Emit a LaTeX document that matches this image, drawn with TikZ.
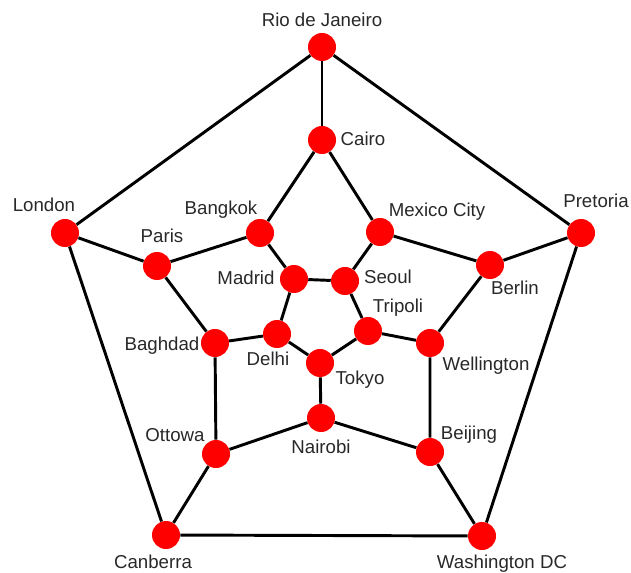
\documentclass[tikz,border=0pt]{standalone}
\usepackage{fontspec}
\setmainfont{Liberation Sans}
\definecolor{txtgray}{RGB}{40,40,40}
\definecolor{dotred}{RGB}{255,0,0}
\begin{document}
\begin{tikzpicture}[x=0.75pt,y=-0.75pt,
  city/.style={circle,fill=dotred,draw=none,minimum size=21pt,inner sep=0pt},
  cityname/.style={anchor=base,inner sep=0pt,text=txtgray,font=\fontsize{14pt}{16pt}\selectfont},
  road/.style={line width=2.2pt,black}]
\useasboundingbox (0,0) rectangle (631,573);
% cities
\node[city] (rio) at (322,47) {};
\node[city] (cairo) at (322,140) {};
\node[city] (london) at (65,233) {};
\node[city] (pretoria) at (581,233) {};
\node[city] (bangkok) at (260,233) {};
\node[city] (mexico) at (380,232) {};
\node[city] (paris) at (157,266) {};
\node[city] (berlin) at (490,265) {};
\node[city] (madrid) at (294,279) {};
\node[city] (seoul) at (345,281) {};
\node[city] (delhi) at (277,334) {};
\node[city] (tripoli) at (368,331) {};
\node[city] (baghdad) at (215,343) {};
\node[city] (wellington) at (430,343) {};
\node[city] (tokyo) at (320,363) {};
\node[city] (nairobi) at (321,418) {};
\node[city] (ottowa) at (216,454) {};
\node[city] (beijing) at (430,452) {};
\node[city] (canberra) at (166,535) {};
\node[city] (washington) at (482,536) {};
% roads
\draw[road] (rio) -- (pretoria) -- (washington) -- (canberra) -- (london) -- (rio);
\draw[road] (rio) -- (cairo);
\draw[road] (pretoria) -- (berlin);
\draw[road] (washington) -- (beijing);
\draw[road] (canberra) -- (ottowa);
\draw[road] (london) -- (paris);
\draw[road] (cairo) -- (mexico) -- (berlin) -- (wellington) -- (beijing) -- (nairobi) -- (ottowa) -- (baghdad) -- (paris) -- (bangkok) -- (cairo);
\draw[road] (mexico) -- (seoul);
\draw[road] (wellington) -- (tripoli);
\draw[road] (nairobi) -- (tokyo);
\draw[road] (baghdad) -- (delhi);
\draw[road] (bangkok) -- (madrid);
\draw[road] (madrid) -- (seoul) -- (tripoli) -- (tokyo) -- (delhi) -- (madrid);
% labels
\node[cityname] (lrio) at (322,27) {Rio de Janeiro};
\node[cityname] (lcairo) at (363,146) {Cairo};
\node[cityname] (llondon) at (44,212) {London};
\node[cityname] (lparis) at (162,243) {Paris};
\node[cityname] (lpretoria) at (596,208) {Pretoria};
\node[cityname] (lbangkok) at (221,215) {Bangkok};
\node[cityname] (lmexico) at (437,217) {Mexico City};
\node[cityname] (lmadrid) at (246,285) {Madrid};
\node[cityname] (lseoul) at (388,284) {Seoul};
\node[cityname] (ltripoli) at (398,313) {Tripoli};
\node[cityname] (ldelhi) at (268,365) {Delhi};
\node[cityname] (ltokyo) at (360,384) {Tokyo};
\node[cityname] (lbaghdad) at (162,350) {Baghdad};
\node[cityname] (lwellington) at (486,370) {Wellington};
\node[cityname] (lberlin) at (515,295) {Berlin};
\node[cityname] (lottowa) at (175,441) {Ottowa};
\node[cityname] (lnairobi) at (321,453) {Nairobi};
\node[cityname] (lbeijing) at (469,439) {Beijing};
\node[cityname] (lcanberra) at (153,568) {Canberra};
\node[cityname] (lwashington) at (502,568) {Washington DC};
\end{tikzpicture}
\end{document}
